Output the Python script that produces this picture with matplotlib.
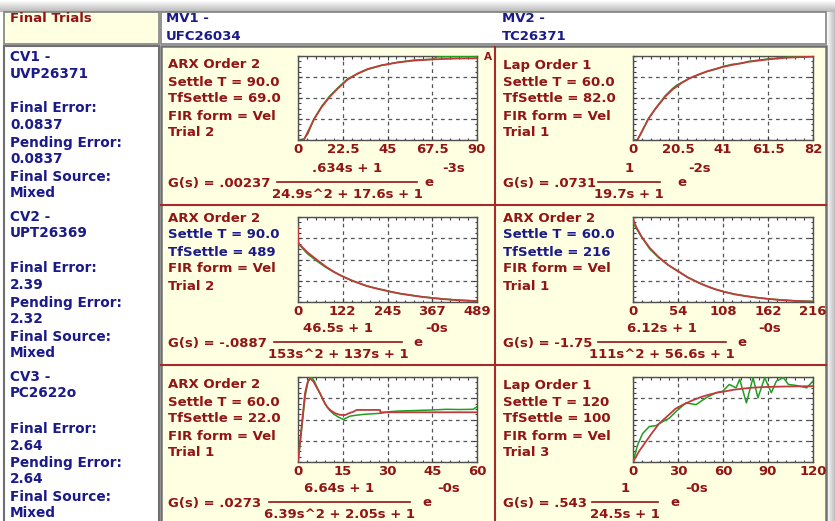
import numpy as np
import matplotlib.pyplot as plt
from matplotlib.patches import Rectangle
from matplotlib.ticker import AutoMinorLocator

# values (y in grid units, 0..4)
p1_t_model = [0, 3, 5, 8, 12, 16, 20, 25, 30, 35, 42, 50, 58, 68, 80, 90]
p1_model = [0, 0.02, 0.4, 0.98, 1.58, 2.06, 2.45, 2.88, 3.17, 3.38, 3.56, 3.69, 3.78, 3.84, 3.88, 3.89]
p1_t_act = [0, 3, 5, 8, 12, 16, 20, 25, 30, 35, 42, 50, 58, 68, 70, 80, 90]
p1_act = [0, 0.05, 0.3, 1.0, 1.62, 2.1, 2.48, 2.92, 3.15, 3.36, 3.55, 3.7, 3.8, 3.85, 3.96, 3.97, 3.97]

p2_t_model = [0, 2, 4, 7, 10, 14.6, 18, 22.2, 26, 29.8, 34, 37.4, 41, 45, 52.5, 61.6, 70, 82]
p2_model = [0, 0, 0.4, 1.0, 1.45, 2.06, 2.4, 2.72, 2.95, 3.12, 3.28, 3.38, 3.48, 3.57, 3.72, 3.84, 3.92, 3.97]
p2_t_act = [0, 2, 4, 7, 10, 14.6, 18, 20, 22.2, 26, 29.8, 34, 37.4, 41, 45, 50, 52.5, 61.6, 70, 82]
p2_act = [0, 0, 0.38, 1.02, 1.47, 2.1, 2.45, 2.62, 2.74, 2.95, 3.1, 3.27, 3.36, 3.5, 3.6, 3.66, 3.74, 3.86, 3.94, 3.98]

p3_t_model = [0, 0.5, 6, 25, 52, 75, 97, 120, 143, 165, 188, 210, 233, 256, 279, 310, 334, 370, 400, 440, 489]
p3_model = [3.5, 2.75, 2.68, 2.35, 1.98, 1.68, 1.43, 1.22, 1.04, 0.89, 0.75, 0.65, 0.56, 0.47, 0.39, 0.31, 0.25, 0.18, 0.13, 0.08, 0.04]
p3_t_act = [0, 6, 25, 52, 75, 97, 120, 143, 165, 188, 210, 233, 256, 279, 310, 334, 370, 400, 440, 489]
p3_act = [2.85, 2.65, 2.28, 1.92, 1.64, 1.42, 1.22, 1.04, 0.9, 0.76, 0.66, 0.57, 0.48, 0.4, 0.32, 0.26, 0.19, 0.14, 0.09, 0.05]

p4_t_model = [0, 2, 5, 10.4, 20, 30.4, 42, 54.4, 66, 78.4, 88, 98.4, 110, 122, 136, 150, 164, 178, 196, 216]
p4_model = [3.95, 3.7, 3.45, 3.07, 2.55, 2.13, 1.75, 1.43, 1.15, 0.91, 0.75, 0.6, 0.47, 0.36, 0.27, 0.2, 0.14, 0.09, 0.05, 0.02]
p4_t_act = [0, 2, 5, 10.4, 20, 30.4, 42, 54.4, 66, 78.4, 88, 98.4, 110, 122, 136, 150, 164, 178, 196, 216]
p4_act = [3.85, 3.6, 3.4, 3.05, 2.5, 2.1, 1.74, 1.45, 1.16, 0.92, 0.76, 0.61, 0.48, 0.37, 0.28, 0.2, 0.14, 0.1, 0.05, 0.03]

p5_t_model = [0, 1.2, 2.35, 3.2, 4, 5.2, 6.3, 7.4, 8.5, 9.7, 11, 12.5, 14, 15.8, 17.2, 18.6, 19.7, 27.5, 27.6, 60]
p5_model = [0, 1.66, 3.23, 3.75, 3.94, 3.78, 3.5, 3.23, 2.9, 2.6, 2.42, 2.29, 2.22, 2.21, 2.3, 2.37, 2.45, 2.45, 2.34, 2.34]
p5_t_act = [0, 1.2, 2.4, 3.4, 4.5, 5.5, 6.6, 7.8, 9, 10.5, 12, 13.5, 15.2, 16.3, 17.5, 19.5, 21.9, 25, 27.5, 30.8, 34, 38.6, 45.3, 49.8, 54, 58.7, 60]
p5_act = [0, 1.5, 3.1, 3.8, 4.0, 3.8, 3.45, 3.1, 2.75, 2.45, 2.25, 2.12, 2.0, 2.08, 2.16, 2.2, 2.24, 2.27, 2.29, 2.37, 2.4, 2.42, 2.45, 2.48, 2.47, 2.48, 2.6]

p6_t_model = [0, 4, 8.4, 12.8, 17.3, 22.8, 28.4, 34, 39.6, 45, 50.7, 56, 61.8, 67, 72.9, 80, 88.5, 100, 110, 120]
p6_model = [0, 0.5, 0.94, 1.38, 1.8, 2.15, 2.51, 2.72, 2.9, 3.05, 3.17, 3.26, 3.33, 3.4, 3.45, 3.5, 3.53, 3.55, 3.56, 3.57]
p6_t_act = [0, 3, 6.4, 10.9, 15.3, 19.8, 24.2, 28.7, 35.3, 42, 48.7, 55.3, 59.8, 64.2, 68.7, 71.1, 75.6, 80, 83.3,
            87.8, 92.2, 95.6, 100.2, 103.6, 109.1, 115.8, 120]
p6_act = [0, 0.79, 1.34, 1.67, 1.71, 1.9, 2.06, 2.38, 2.78, 2.7, 3.02, 3.26, 3.33, 3.65, 3.49, 3.89, 2.78, 3.97, 3.02,
          3.97, 3.26, 3.81, 3.97, 3.65, 3.6, 3.49, 3.81]

xmax = [90, 82, 489, 216, 60, 120]
xtick_labels = [['0', '22.5', '45', '67.5', '90'],
                ['0', '20.5', '41', '61.5', '82'],
                ['0', '122', '245', '367', '489'],
                ['0', '54', '108', '162', '216'],
                ['0', '15', '30', '45', '60'],
                ['0', '30', '60', '90', '120']]

cell_lines = [['ARX Order 2', 'Settle T = 90.0', 'TfSettle = 69.0', 'FIR form = Vel', 'Trial 2'],
              ['Lap Order 1', 'Settle T = 60.0', 'TfSettle = 82.0', 'FIR form = Vel', 'Trial 1'],
              ['ARX Order 2', 'Settle T = 90.0', 'TfSettle = 489', 'FIR form = Vel', 'Trial 2'],
              ['ARX Order 2', 'Settle T = 60.0', 'TfSettle = 216', 'FIR form = Vel', 'Trial 1'],
              ['ARX Order 2', 'Settle T = 60.0', 'TfSettle = 22.0', 'FIR form = Vel', 'Trial 1'],
              ['Lap Order 1', 'Settle T = 120', 'TfSettle = 100', 'FIR form = Vel', 'Trial 3']]
gains = ['G(s) = .00237', 'G(s) = .0731', 'G(s) = -.0887', 'G(s) = -1.75', 'G(s) = .0273', 'G(s) = .543']
numerators = ['.634s + 1', '1', '46.5s + 1', '6.12s + 1', '6.64s + 1', '1']
denominators = ['24.9s^2 + 17.6s + 1', '19.7s + 1', '153s^2 + 137s + 1', '111s^2 + 56.6s + 1',
                '6.39s^2 + 2.05s + 1', '24.5s + 1']
delays = ['-3s', '-2s', '-0s', '-0s', '-0s', '-0s']

cv_lines = [['CV1 -', 'UVP26371', 'Final Error:', '0.0837', 'Pending Error:', '0.0837', 'Final Source:', 'Mixed'],
            ['CV2 -', 'UPT26369', 'Final Error:', '2.39', 'Pending Error:', '2.32', 'Final Source:', 'Mixed'],
            ['CV3 -', 'PC2622o', 'Final Error:', '2.64', 'Pending Error:', '2.64', 'Final Source:', 'Mixed']]

models = [(p1_t_model, p1_model), (p2_t_model, p2_model), (p3_t_model, p3_model),
          (p4_t_model, p4_model), (p5_t_model, p5_model), (p6_t_model, p6_model)]
actuals = [(p1_t_act, p1_act), (p2_t_act, p2_act), (p3_t_act, p3_act),
           (p4_t_act, p4_act), (p5_t_act, p5_act), (p6_t_act, p6_act)]

RED = '#921414'
BLUE = '#1a1a8a'
CELL = '#ffffe1'
GRIDRED = '#a52a2a'

W, H = 835, 521
fig = plt.figure(figsize=(W / 100, H / 100), dpi=100)
bg = fig.add_axes([0, 0, 1, 1])
bg.set_xlim(0, W)
bg.set_ylim(H, 0)
bg.axis('off')

# shadow at top and right
grad = np.linspace(1, 0.72, 12).reshape(-1, 1)
bg.imshow(grad, cmap='gray', vmin=0, vmax=1, extent=[0, W, 12, 0], aspect='auto')
grad_r = np.linspace(1, 0.75, 9).reshape(1, -1)
bg.imshow(grad_r, cmap='gray', vmin=0, vmax=1, extent=[826, W, H, 12], aspect='auto')
bg.set_xlim(0, W)
bg.set_ylim(H, 0)

# header cells
bg.add_patch(Rectangle((4, 12), 155, 32, fc=CELL, ec='#808080', lw=1.2))
bg.add_patch(Rectangle((161, 12), 665, 32, fc='white', ec='#808080', lw=1.2))
bg.add_patch(Rectangle((4, 46), 155, 480, fc='white', ec='#707070', lw=1.5))
bg.add_patch(Rectangle((161, 46), 665, 480, fc=CELL, ec='#707070', lw=1.8))
bg.plot([161, 826], [205, 205], color=GRIDRED, lw=1.5)
bg.plot([161, 826], [365, 365], color=GRIDRED, lw=1.5)
bg.plot([495, 495], [47, 521], color=GRIDRED, lw=1.5)

fs = 9.5
bfont = dict(fontsize=fs, fontweight='bold', va='center', ha='left')
bg.text(10, 19, 'Final Trials', color=RED, **bfont)
bg.text(166, 19, 'MV1 -', color=BLUE, **bfont)
bg.text(166, 36, 'UFC26034', color=BLUE, **bfont)
bg.text(502, 19, 'MV2 -', color=BLUE, **bfont)
bg.text(502, 36, 'TC26371', color=BLUE, **bfont)

cv_y = [[57, 74, 108, 125, 143, 159, 177, 193],
        [217, 233, 268, 285, 303, 319, 337, 353],
        [377, 393, 429, 446, 463, 479, 497, 513]]
for lines, ys in zip(cv_lines, cv_y):
    for s, y in zip(lines, ys):
        bg.text(10, y, s, color=BLUE, fontsize=9.8, fontweight='bold', va='center', ha='left')

col_x = [168, 503]
ax_x = [(298, 477), (633, 813)]
ax_y = [(56, 140), (217, 302), (377, 462)]
text_y0 = [65, 218, 385]
eq_y = [183, 343, 503]
frac = [(277, 417), (598, 660), (274, 402), (598, 726), (269, 410), (592, 658)]
e_x = [424, 677, 413, 737, 422, 670]
exp_x = [442, 688, 425, 758, 437, 685]
efs = 9.5

for i in range(6):
    r, c = divmod(i, 2)
    x0 = col_x[c]
    for k, s in enumerate(cell_lines[i]):
        col = BLUE if (r == 1 and k in (1, 2)) else RED
        bg.text(x0, text_y0[r] + 17 * k, s, color=col, **bfont)

    ey = eq_y[r]
    bg.text(x0, ey, gains[i], color=RED, fontsize=efs, fontweight='bold', va='center', ha='left')
    fa, fb = frac[i]
    bg.plot([fa, fb], [ey - 1, ey - 1], color=RED, lw=1.2)
    bg.text((fa + fb) / 2, ey - 15, numerators[i], color=RED, fontsize=efs, fontweight='bold',
            va='center', ha='center')
    bg.text((fa + fb) / 2, ey + 12, denominators[i], color=RED, fontsize=efs, fontweight='bold',
            va='center', ha='center')
    bg.text(e_x[i], ey, 'e', color=RED, fontsize=efs, fontweight='bold', va='center', ha='left')
    bg.text(exp_x[i], ey - 15, delays[i], color=RED, fontsize=efs, fontweight='bold', va='center', ha='left')

    xa, xb = ax_x[c]
    ya, yb = ax_y[r]
    ax = fig.add_axes([xa / W, 1 - yb / H, (xb - xa) / W, (yb - ya) / H])
    ax.set_facecolor('white')
    tm, vm = models[i]
    ta, va_ = actuals[i]
    ax.plot(ta, va_, color='#1f9e1f', lw=1.1, zorder=3)
    ax.plot(tm, vm, color='#c03c3c', lw=1.3, zorder=4)
    ax.set_xlim(0, xmax[i])
    ax.set_ylim(0, 4)
    ax.set_xticks(np.linspace(0, xmax[i], 5))
    ax.set_xticklabels(xtick_labels[i])
    ax.set_yticks([0, 1, 2, 3, 4])
    ax.set_yticklabels([])
    ax.xaxis.set_minor_locator(AutoMinorLocator(5))
    ax.yaxis.set_minor_locator(AutoMinorLocator(4))
    ax.tick_params(which='both', direction='in', top=True, right=True, colors='#404040')
    ax.tick_params(which='major', length=3, width=0.8)
    ax.tick_params(which='minor', length=1.8, width=0.8)
    ax.tick_params(axis='x', which='major', labelsize=9.5, labelcolor=RED, pad=2)
    for lab in ax.get_xticklabels():
        lab.set_fontweight('bold')
    ax.grid(True, which='major', color='#555555', lw=0.9, linestyle=(0, (3, 3)))
    for sp in ax.spines.values():
        sp.set_color('#505050')
        sp.set_linewidth(1)

bg.text(484, 57, 'A', color=RED, fontsize=7.5, fontweight='bold', va='center', ha='left')

fig.savefig('out.png', dpi=100)
